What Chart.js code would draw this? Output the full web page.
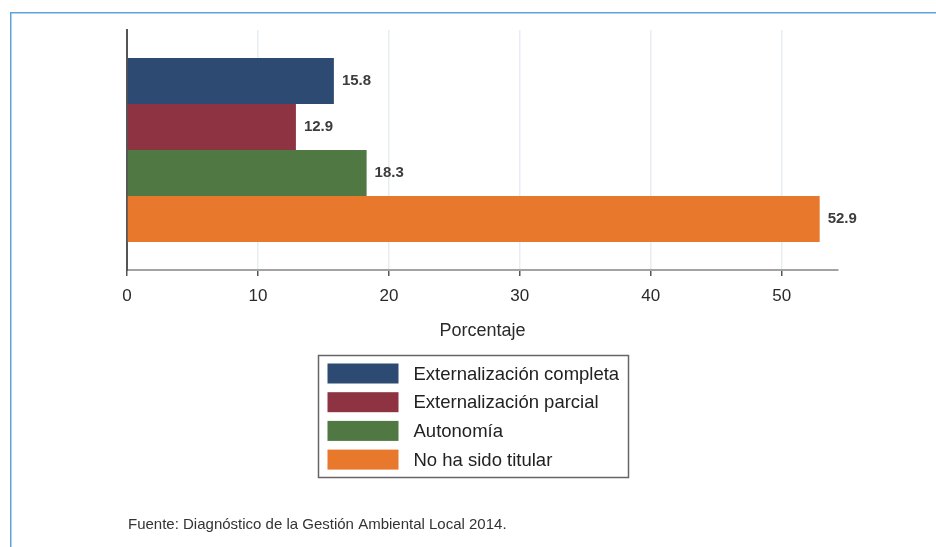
<!DOCTYPE html>
<html>
<head>
<meta charset="utf-8">
<script src="https://cdn.jsdelivr.net/npm/chart.js@4/dist/chart.umd.min.js"></script>
<style>
  html, body { margin: 0; padding: 0; background: #fff; }
  #wrap { position: relative; width: 936px; height: 547px; }
</style>
</head>
<body>
<div id="wrap"><canvas id="chart" width="936" height="547"></canvas></div>
<script>
const series = ['Externalización completa', 'Externalización parcial', 'Autonomía', 'No ha sido titular'];
const values = [15.8, 12.9, 18.3, 52.9];
const colors = ['#2c4a72', '#8e3341', '#507842', '#e8782c'];
const xTicks = [0, 10, 20, 30, 40, 50];
const axisTitle = 'Porcentaje';
const source = 'Fuente: Diagnóstico de la Gestión Ambiental Local 2014.';

const FONT = "'Liberation Sans', Arial, sans-serif";

// page frame (blue rule on top and left)
const framePlugin = {
    id: 'frame',
    beforeDraw(chart) {
        const ctx = chart.ctx;
        ctx.save();
        ctx.strokeStyle = '#5ba5de';
        ctx.lineWidth = 1.5;
        ctx.beginPath();
        ctx.moveTo(10.75, 547);
        ctx.lineTo(10.75, 12.75);
        ctx.lineTo(936, 12.75);
        ctx.stroke();
        ctx.restore();
    }
};

// value labels at the end of each bar
const valueLabels = {
    id: 'valueLabels',
    afterDatasetsDraw(chart) {
        const ctx = chart.ctx;
        ctx.save();
        ctx.font = 'bold 15px ' + FONT;
        ctx.fillStyle = '#3c3c3c';
        ctx.textBaseline = 'middle';
        chart.data.datasets.forEach((ds, i) => {
            const bar = chart.getDatasetMeta(i).data[0];
            ctx.fillText(ds.data[0].toFixed(1), bar.x + 8, bar.y);
        });
        ctx.restore();
    }
};

// boxed legend under the axis title, plus the source note
const boxLegend = {
    id: 'boxLegend',
    afterDraw(chart) {
        const ctx = chart.ctx;
        const left = 318.5, top = 355.5, w = 310, h = 122;
        ctx.save();
        ctx.strokeStyle = '#666';
        ctx.lineWidth = 1.5;
        ctx.strokeRect(left, top, w, h);
        ctx.font = '18.5px ' + FONT;
        ctx.textBaseline = 'middle';
        chart.data.datasets.forEach((ds, i) => {
            const cy = top + 18 + i * 28.7;
            ctx.fillStyle = ds.backgroundColor;
            ctx.fillRect(left + 9, cy - 10, 71, 20);
            ctx.fillStyle = '#222';
            ctx.fillText(ds.label, left + 95, cy + 1);
        });
        ctx.font = '15px ' + FONT;
        ctx.fillStyle = '#333';
        ctx.textBaseline = 'alphabetic';
        ctx.fillText(source, 128, 529);
        ctx.restore();
    }
};

const datasets = series.map((name, i) => ({
    label: name,
    data: [values[i]],
    backgroundColor: colors[i],
    borderWidth: 0,
    categoryPercentage: 0.766,
    barPercentage: 1
}));

new Chart(document.getElementById('chart'), {
    type: 'bar',
    data: { labels: [''], datasets: datasets },
    options: {
        indexAxis: 'y',
        responsive: false,
        animation: false,
        layout: { padding: { left: 119, right: 98, top: 30, bottom: 205 } },
        plugins: {
            legend: { display: false },
            tooltip: { enabled: false }
        },
        scales: {
            x: {
                min: 0,
                max: 54.3,
                afterBuildTicks(scale) {
                    scale.ticks = xTicks.map(v => ({ value: v }));
                },
                border: { display: true, color: '#a3a3a3', width: 2 },
                grid: { color: '#e8edf1', lineWidth: 1.5, tickColor: '#555', tickLength: 6, drawTicks: true },
                ticks: { color: '#2a2a2a', font: { family: FONT, size: 17 }, padding: 10, maxRotation: 0 },
                title: { display: true, text: axisTitle, color: '#2a2a2a', font: { family: FONT, size: 18 }, padding: { top: 4, bottom: 0 } }
            },
            y: {
                border: { display: true, color: '#555', width: 2 },
                grid: { display: false },
                ticks: { display: false }
            }
        }
    },
    plugins: [framePlugin, valueLabels, boxLegend]
});
</script>
</body>
</html>
